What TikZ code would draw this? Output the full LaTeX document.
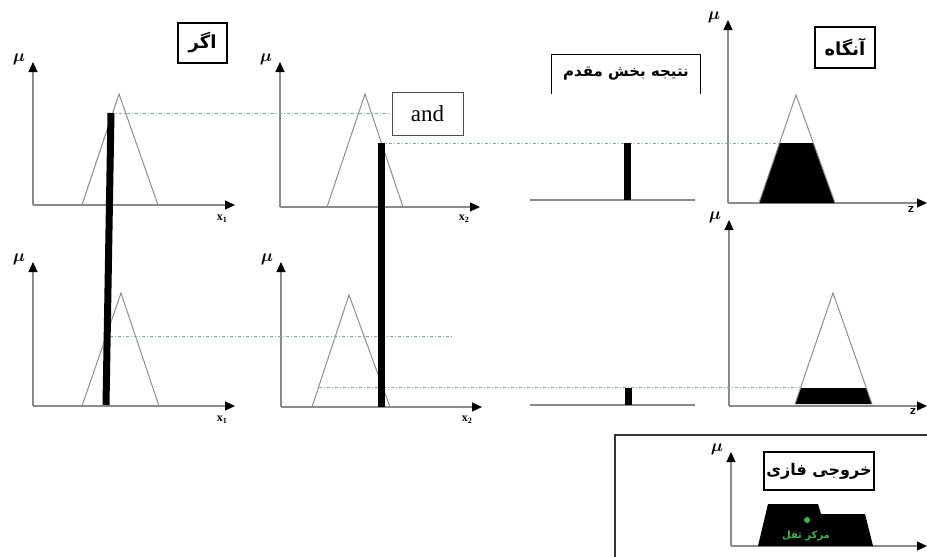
\documentclass[tikz,border=0pt]{standalone}
\usepackage{amsmath}
\usepackage{fontspec}
\setmainfont{Liberation Serif}
\newfontfamily\arabicfont[Script=Arabic]{DejaVu Sans}
\TeXXeTstate=1
\usepackage{xcolor}
\usetikzlibrary{arrows.meta}
\definecolor{AxisGray}{HTML}{8A8A8A}
\definecolor{MembGray}{HTML}{8E8E8E}
\definecolor{LevelBlue}{HTML}{7FA3C0}
\definecolor{CogGreen}{HTML}{3DB54A}
\definecolor{FrameInk}{HTML}{333333}

\begin{document}
\begin{tikzpicture}[x=1pt,y=-1pt,
  axis/.style={draw=AxisGray,line width=1.1pt,
    -{Triangle[length=10pt,width=9pt,color=black]}},
  memb/.style={draw=MembGray,line width=1pt},
  level/.style={draw=LevelBlue,line width=0.9pt,
    dash pattern=on 3pt off 2pt on 1pt off 2pt},
  strength/.style={draw=black,line width=7pt},
  tag/.style={draw=black,line width=1.2pt,inner sep=0pt,
    font=\arabicfont\bfseries\fontsize{15}{18}\selectfont},
  bigtag/.style={tag,font=\arabicfont\bfseries\fontsize{18}{20}\selectfont},
  mulabel/.style={font=\fontsize{19}{20}\selectfont\boldmath},
  varlabel/.style={font=\bfseries\fontsize{12}{14}\selectfont}]
  \useasboundingbox (0,0) rectangle (927,557);

  % Axes of the seven panels.
  \foreach \ox/\oy/\ty/\rx [count=\i] in {33/205/62/235,280/207/62/480,
      728/203/20/927,33/406/262/235,281/407/262/482,729/406/220/927,
      731/546/452/927}{
    \draw[axis] (\ox,\oy) -- (\ox,\ty);
    \draw[axis] (\ox,\oy) -- (\rx,\oy);
    \node[mulabel] (mu\i) at (\ox-14,\ty-3) {$\mu$};
  }
  \node[varlabel] (xa1) at (222,219) {x\textsubscript{1}};
  \node[varlabel] (xa2) at (464,219) {x\textsubscript{2}};
  \node[varlabel] (xb1) at (222,420) {x\textsubscript{1}};
  \node[varlabel] (xb2) at (467,420) {x\textsubscript{2}};
  \node[varlabel,font=\sffamily\bfseries\fontsize{13}{14}\selectfont] (za)
    at (911,210) {z};
  \node[varlabel,font=\sffamily\bfseries\fontsize{13}{14}\selectfont] (zb)
    at (913,412) {z};

  % Rule 1.
  \draw[memb] (82,205) -- (119,94) -- (158,205) -- cycle;
  \draw[memb] (327,207) -- (365,94) -- (403,207) -- cycle;
  \fill (759,203) -- (779.6,143) -- (813.3,143) -- (835,203) -- cycle;
  \draw[memb] (759,203) -- (796,95) -- (835,203);

  % Rule 2.
  \draw[memb] (82,406) -- (121,293) -- (159,406) -- cycle;
  \draw[memb] (312,407) -- (349,295) -- (390,407) -- cycle;
  \fill (795,404) -- (800.5,388) -- (866.4,388) -- (872,404) -- cycle;
  \draw[memb] (795,404) -- (833,293) -- (872,404);

  % Firing levels.
  \coordinate (a1top) at (111,113);
  \coordinate (a1bot) at (106,405);
  \coordinate (a2top) at (381,143);
  \coordinate (a2bot) at (381,407);
  \coordinate (b1lev) at (110,336);
  \coordinate (b2lev) at (319,387);
  \draw[level] (a1top) -- (390,113);
  \draw[level] (a2top) -- (780,143);
  \draw[level] (b1lev) -- (453,336);
  \draw[level] (b2lev) -- (800,387);
  \draw[strength] (a1top) -- (a1bot);
  \draw[strength] (a2top) -- (a2bot);

  % Antecedent results.
  \draw[AxisGray,line width=1.1pt] (530,200) -- (695,200);
  \draw[AxisGray,line width=1.1pt] (530,405) -- (695,405);
  \draw[strength] (627,143) -- (627,200);
  \draw[strength] (628,388) -- (628,405);

  % Labels.
  \node[bigtag,minimum width=49pt,minimum height=40pt] (ifbox) at (202.5,43)
    {\beginR اگر\endR};
  \node[draw=black!70,line width=1pt,minimum width=71pt,minimum height=43pt,
    inner sep=0pt,font=\fontsize{23}{26}\selectfont] (andbox) at (427.5,113.5) {and};
  \node[tag,draw=none,minimum width=148pt,minimum height=38pt] (resbox)
    at (626,74) {\beginR نتیجه بخش مقدم\endR};
  \draw[line width=1.2pt] (resbox.south west) -- (resbox.north west)
    -- (resbox.north east) -- (resbox.south east);
  \node[bigtag,minimum width=60pt,minimum height=41pt] (thenbox) at (845,47.5)
    {\beginR آنگاه\endR};

  % Fuzzy output.
  \draw[FrameInk,line width=1.8pt] (615,557) -- (615,435) -- (927,435);
  \fill (758,546) -- (768,504) -- (818,504) -- (821,514) -- (865,514)
    -- (873,546) -- cycle;
  \node[tag,font=\arabicfont\bfseries\fontsize{16}{18}\selectfont,
    minimum width=110pt,minimum height=38pt] (outbox) at (819,471)
    {\beginR خروجی فازی\endR};
  \fill[CogGreen] (807,520) circle (3pt);
  \node[font=\arabicfont\bfseries\fontsize{10}{12}\selectfont,text=CogGreen]
    (cog) at (806,536) {\beginR مرکز ثقل\endR};
\end{tikzpicture}
\end{document}
